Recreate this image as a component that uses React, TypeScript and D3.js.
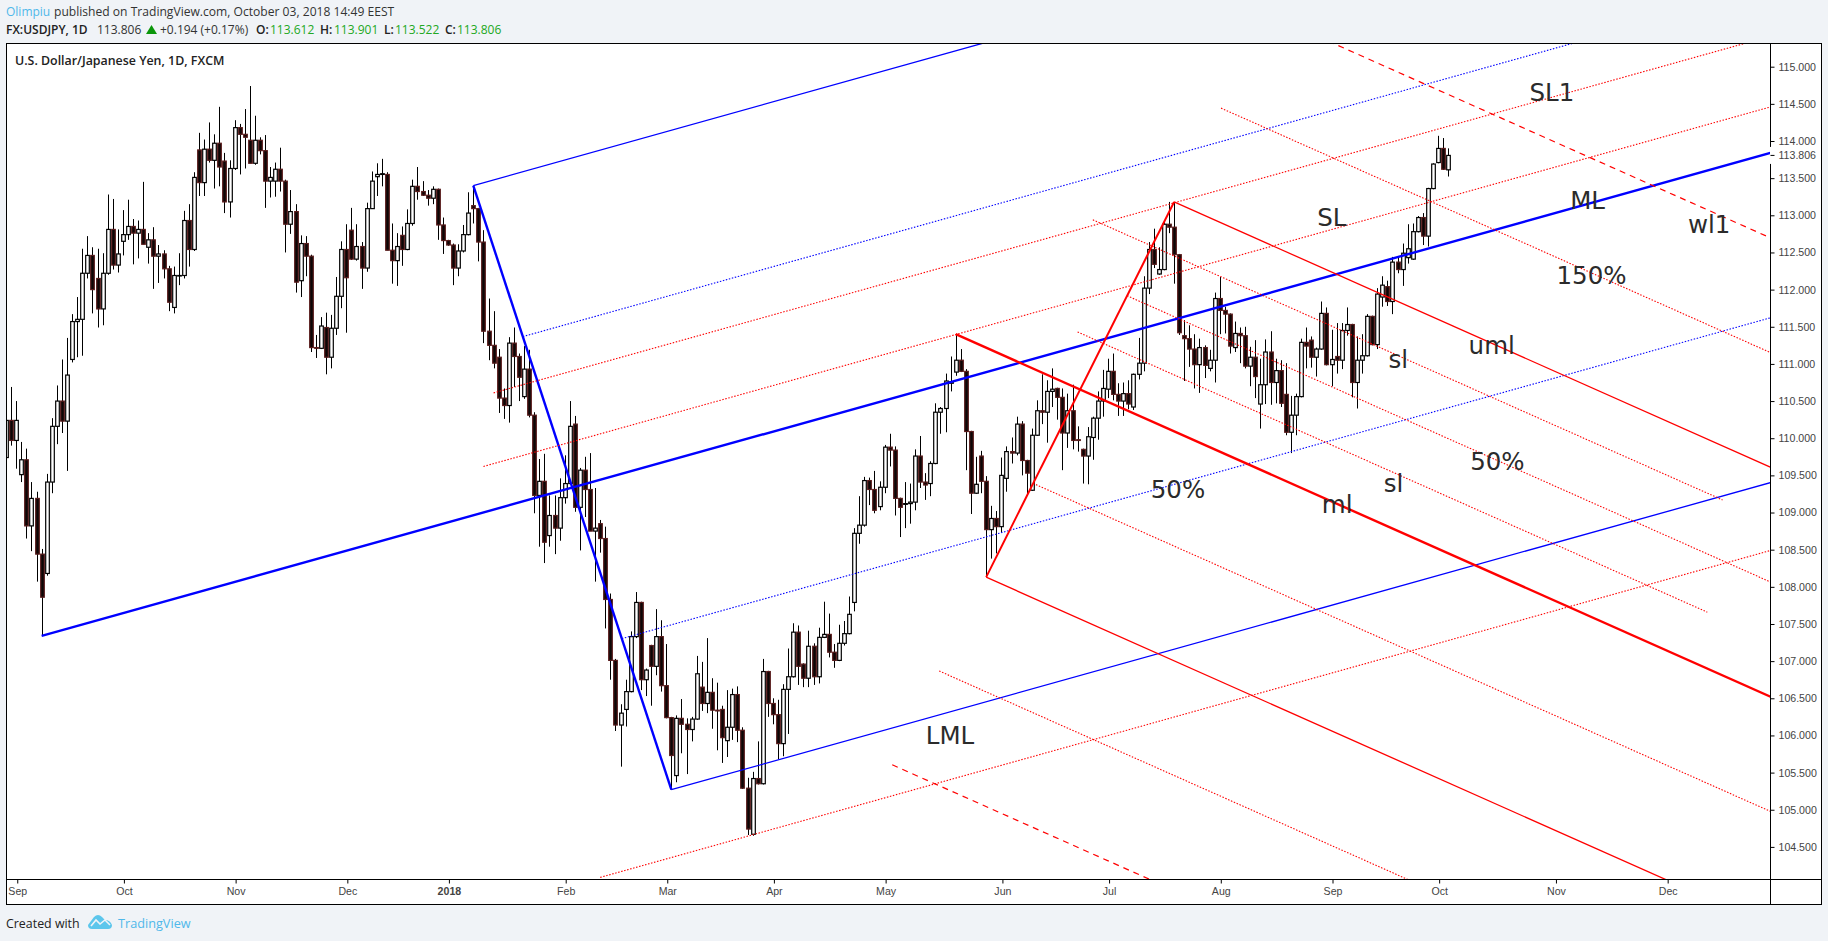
import { useEffect, useRef } from 'react';
import * as d3 from 'd3';

type Candle = [number, number, number, number]; // open, high, low, close

const aug17: Candle[] = [
	[109.74, 110.32, 109.71, 110.24], [110.24, 110.69, 109.9, 109.97],
];
const sep17: Candle[] = [
	[109.97, 110.5, 109.59, 110.24], [109.51, 109.95, 109.41, 109.71], [109.71, 109.86, 108.65, 108.82], [108.82, 109.41, 108.48, 109.19],
	[109.19, 109.28, 108.07, 108.44], [108.44, 108.51, 107.35, 107.86], [108.18, 109.52, 108.15, 109.41], [109.41, 110.27, 109.26, 110.16],
	[110.16, 110.71, 109.92, 110.5], [110.5, 111.06, 110.07, 110.23], [110.23, 111.35, 109.56, 110.85], [111.06, 111.67, 111.02, 111.57],
	[111.57, 111.9, 111.09, 111.6], [111.6, 112.55, 111.11, 112.22], [112.22, 112.72, 112.15, 112.46], [112.46, 112.57, 111.68, 112.0],
	[112.15, 112.55, 111.49, 111.74], [111.74, 112.49, 111.52, 112.22], [112.22, 113.28, 112.2, 112.81], [112.81, 113.22, 112.27, 112.33],
	[112.33, 112.81, 112.23, 112.48],
];
const oct17: Candle[] = [
	[112.65, 113.07, 112.46, 112.74], [112.74, 113.21, 112.67, 112.85], [112.85, 112.95, 112.34, 112.76], [112.76, 112.93, 112.42, 112.81],
	[112.81, 113.45, 112.61, 112.61], [112.57, 112.76, 112.35, 112.67], [112.67, 112.84, 112.01, 112.45], [112.45, 112.6, 112.09, 112.48],
	[112.48, 112.53, 112.15, 112.28], [112.28, 112.32, 111.71, 111.83], [111.76, 112.31, 111.68, 112.19], [112.19, 112.49, 112.06, 112.19],
	[112.19, 113.06, 112.15, 112.93], [112.93, 113.15, 112.31, 112.54], [112.54, 113.58, 112.52, 113.51], [113.88, 114.11, 113.26, 113.44],
	[113.44, 114.02, 113.26, 113.89], [113.89, 114.25, 113.71, 113.74], [113.74, 114.09, 113.36, 113.97], [113.97, 114.46, 113.39, 113.65],
	[113.73, 113.84, 113.03, 113.18], [113.18, 113.74, 112.97, 113.63],
];
const nov17: Candle[] = [
	[113.63, 114.28, 113.61, 114.18], [114.18, 114.23, 113.55, 114.09], [114.09, 114.43, 113.63, 114.05], [114.01, 114.74, 113.7, 113.7],
	[113.7, 114.34, 113.68, 114.01], [114.01, 114.05, 113.82, 113.87], [113.87, 114.08, 113.1, 113.46], [113.46, 113.65, 113.24, 113.51],
	[113.46, 113.71, 113.25, 113.62], [113.62, 113.91, 113.32, 113.46], [113.46, 113.48, 112.5, 112.88], [112.88, 113.34, 112.75, 113.05],
	[113.05, 113.15, 111.96, 112.1], [112.12, 112.73, 111.9, 112.62], [112.62, 112.72, 112.18, 112.45], [112.45, 112.47, 111.16, 111.22],
	[111.22, 111.39, 111.08, 111.21], [111.21, 111.63, 111.2, 111.51], [111.49, 111.69, 110.86, 111.09], [111.09, 111.66, 110.94, 111.48],
	[111.48, 112.17, 111.39, 111.91], [111.91, 112.65, 111.75, 112.54],
];
const dec17: Candle[] = [
	[112.54, 112.88, 111.42, 112.16], [112.8, 113.1, 112.4, 112.41], [112.41, 112.88, 112.39, 112.58], [112.58, 112.64, 112.01, 112.29],
	[112.29, 113.17, 112.24, 113.09], [113.09, 113.59, 113.09, 113.46], [113.52, 113.7, 113.26, 113.55], [113.55, 113.76, 113.39, 113.56],
	[113.55, 113.58, 112.53, 112.53], [112.53, 112.89, 112.08, 112.39], [112.39, 112.76, 112.05, 112.58], [112.73, 112.85, 112.32, 112.54],
	[112.54, 113.08, 112.53, 112.89], [112.89, 113.48, 112.86, 113.39], [113.39, 113.65, 113.21, 113.32], [113.32, 113.46, 113.26, 113.27],
	[113.27, 113.34, 113.13, 113.23], [113.23, 113.39, 113.15, 113.35], [113.35, 113.36, 112.67, 112.87], [112.87, 112.97, 112.48, 112.66],
];
const jan18: Candle[] = [
	[112.66, 112.67, 112.59, 112.6], [112.6, 112.62, 112.06, 112.29], [112.29, 112.61, 112.18, 112.52], [112.52, 112.87, 112.5, 112.74],
	[112.74, 113.31, 112.73, 113.03], [113.13, 113.39, 112.89, 113.09], [113.09, 113.1, 112.38, 112.64], [112.64, 112.8, 111.28, 111.44],
	[111.44, 111.88, 111.05, 111.25], [111.25, 111.71, 110.94, 111.01], [111.09, 111.2, 110.34, 110.54], [110.54, 110.67, 110.26, 110.44],
	[110.44, 111.36, 110.21, 111.28], [111.28, 111.49, 110.69, 111.1], [111.1, 111.14, 110.5, 110.82], [110.56, 111.24, 110.53, 110.93],
	[110.93, 111.19, 110.28, 110.31], [110.31, 110.35, 108.99, 109.23], [109.23, 109.72, 108.54, 109.42], [109.42, 109.79, 108.32, 108.6],
	[108.69, 109.23, 108.54, 108.96], [108.96, 109.23, 108.44, 108.79], [108.79, 109.46, 108.62, 109.2],
];
const feb18: Candle[] = [
	[109.2, 109.77, 109.12, 109.39], [109.39, 110.5, 109.38, 110.16], [110.19, 110.3, 109.01, 109.07], [109.07, 109.6, 108.49, 109.57],
	[109.57, 109.75, 108.94, 109.31], [109.31, 109.8, 108.75, 108.75], [108.75, 109.33, 108.07, 108.79], [108.85, 108.9, 108.46, 108.65],
	[108.65, 108.81, 107.44, 107.83], [107.83, 107.91, 106.75, 107.01], [107.01, 107.03, 106.06, 106.14], [106.14, 106.42, 105.58, 106.3],
	[106.35, 106.75, 106.12, 106.59], [106.59, 107.4, 106.58, 107.33], [107.33, 107.93, 107.31, 107.79], [107.79, 107.8, 106.61, 106.75],
	[106.75, 106.9, 106.53, 106.88], [107.21, 107.22, 106.4, 106.93], [106.93, 107.7, 106.81, 107.33], [107.33, 107.55, 106.59, 106.67],
];
const mar18: Candle[] = [
	[106.67, 107.23, 106.23, 106.24], [106.24, 106.25, 105.27, 105.73], [105.46, 106.27, 105.37, 106.23], [106.23, 106.49, 105.76, 106.15],
	[106.15, 106.23, 105.48, 106.08], [106.08, 106.25, 105.92, 106.22], [106.22, 107.07, 106.21, 106.83], [106.65, 106.99, 106.33, 106.43],
	[106.43, 107.31, 106.3, 106.58], [106.58, 106.77, 106.09, 106.34], [106.34, 106.71, 105.8, 106.33], [106.35, 106.4, 105.63, 105.97],
	[105.93, 106.61, 105.71, 106.11], [106.11, 106.63, 105.94, 106.55], [106.55, 106.66, 105.91, 106.07], [106.07, 106.11, 105.28, 105.29],
	[105.29, 105.43, 104.66, 104.74], [104.67, 105.51, 104.65, 105.42], [105.42, 105.92, 105.34, 105.35], [105.35, 107.03, 105.34, 106.86],
	[106.86, 106.87, 106.25, 106.43],
];
const apr18: Candle[] = [
	[106.43, 106.5, 106.15, 106.28], [106.28, 106.48, 105.68, 105.89], [105.89, 106.69, 105.72, 106.62], [106.62, 107.17, 106.02, 106.79],
	[106.79, 107.51, 106.78, 107.39], [107.39, 107.48, 106.68, 106.93], [106.96, 106.97, 106.65, 106.77], [106.77, 107.41, 106.65, 107.2],
	[107.2, 107.24, 106.68, 106.79], [106.79, 107.45, 106.7, 107.32], [107.32, 107.8, 107.31, 107.36], [107.36, 107.64, 107.05, 107.12],
	[107.12, 107.23, 106.91, 107.01], [107.01, 107.49, 107.0, 107.24], [107.24, 107.54, 107.21, 107.37], [107.37, 107.87, 107.36, 107.63],
	[107.79, 108.79, 107.67, 108.72], [108.72, 109.22, 108.58, 108.83], [108.83, 109.48, 108.81, 109.43], [109.43, 109.47, 109.1, 109.31],
	[109.31, 109.56, 108.99, 109.03], [109.08, 109.42, 109.03, 109.34],
];
const may18: Candle[] = [
	[109.34, 109.91, 109.26, 109.88], [109.88, 110.06, 109.62, 109.84], [109.84, 109.89, 108.96, 109.19], [109.19, 109.2, 108.67, 109.07],
	[109.11, 109.41, 108.79, 109.12], [109.12, 109.39, 108.85, 109.14], [109.14, 109.85, 109.03, 109.76], [109.76, 110.03, 109.33, 109.41],
	[109.41, 109.53, 109.17, 109.37], [109.39, 109.69, 109.22, 109.66], [109.66, 110.47, 109.65, 110.35], [110.35, 110.42, 110.06, 110.4],
	[110.4, 110.87, 110.08, 110.77], [110.74, 111.1, 110.63, 110.76], [110.89, 111.4, 110.84, 111.05], [111.05, 111.2, 110.89, 110.9],
	[110.9, 110.93, 109.57, 110.09], [110.09, 110.1, 108.98, 109.26], [109.26, 109.75, 109.25, 109.38], [109.76, 109.83, 109.26, 109.42],
	[109.42, 109.49, 108.14, 108.77], [108.77, 109.09, 108.38, 108.92], [108.92, 109.02, 108.45, 108.81],
];
const jun18: Candle[] = [
	[108.81, 109.74, 108.73, 109.5], [109.46, 109.89, 109.28, 109.82], [109.82, 110.01, 109.66, 109.8], [109.8, 110.29, 109.77, 110.19],
	[110.19, 110.23, 109.5, 109.7], [109.7, 109.71, 109.25, 109.53], [109.3, 110.13, 109.29, 110.04], [110.04, 110.51, 110.03, 110.37],
	[110.37, 110.86, 110.19, 110.35], [110.35, 110.78, 109.94, 110.63], [110.63, 110.94, 110.42, 110.66], [110.67, 110.68, 110.25, 110.55],
	[110.55, 110.67, 109.57, 110.07], [110.07, 110.6, 109.87, 110.37], [110.37, 110.72, 109.85, 109.97], [109.98, 110.16, 109.82, 109.97],
	[109.85, 109.86, 109.39, 109.76], [109.76, 110.15, 109.38, 110.02], [110.01, 110.29, 109.71, 110.27], [110.27, 110.63, 109.98, 110.5],
	[110.5, 110.92, 110.29, 110.67],
];
const jul18: Candle[] = [
	[110.66, 111.07, 110.54, 110.9], [110.9, 111.14, 110.51, 110.59], [110.59, 110.74, 110.3, 110.5], [110.5, 110.75, 110.3, 110.6],
	[110.6, 110.78, 110.39, 110.46], [110.42, 110.87, 110.38, 110.86], [110.86, 111.35, 110.79, 111.01], [111.01, 112.18, 110.9, 112.02],
	[112.02, 112.64, 111.94, 112.54], [112.54, 112.82, 112.29, 112.34], [112.21, 112.57, 112.2, 112.27], [112.27, 112.91, 112.26, 112.88],
	[112.88, 113.18, 112.76, 112.84], [112.84, 113.18, 112.08, 112.47], [112.47, 112.48, 111.39, 111.42], [111.38, 111.59, 110.77, 111.34],
	[111.34, 111.52, 110.96, 111.2], [111.2, 111.4, 110.67, 110.99], [110.99, 111.34, 110.61, 111.22], [111.22, 111.25, 110.81, 110.98],
	[110.94, 111.19, 110.9, 111.05], [111.05, 111.96, 110.75, 111.88],
];
const aug18: Candle[] = [
	[111.88, 112.17, 111.4, 111.72], [111.72, 111.77, 111.41, 111.67], [111.67, 111.68, 111.14, 111.24], [111.22, 111.57, 111.16, 111.41],
	[111.41, 111.49, 111.01, 111.38], [111.38, 111.5, 110.94, 110.97], [110.97, 111.23, 110.7, 111.09], [111.09, 111.32, 110.54, 110.83],
	[110.46, 111.07, 110.13, 110.72], [110.72, 111.33, 110.46, 111.16], [111.16, 111.44, 110.45, 110.75], [110.75, 111.07, 110.47, 110.91],
	[110.91, 111.05, 110.42, 110.47], [110.59, 111.01, 110.04, 110.08], [110.08, 110.57, 109.8, 110.31], [110.31, 110.6, 110.04, 110.56],
	[110.56, 111.34, 110.55, 111.29], [111.29, 111.49, 110.94, 111.24], [111.32, 111.37, 110.95, 111.09], [111.09, 111.22, 110.83, 111.2],
	[111.2, 111.84, 111.19, 111.68], [111.68, 111.76, 110.98, 110.99], [110.99, 111.46, 110.7, 111.06],
];
const sep18: Candle[] = [
	[111.1, 111.55, 110.87, 111.05], [111.05, 111.55, 110.93, 111.45], [111.45, 111.76, 111.38, 111.53], [111.53, 111.54, 110.55, 110.75],
	[110.75, 111.37, 110.4, 111.05], [111.05, 111.4, 110.87, 111.11], [111.11, 111.67, 111.1, 111.64], [111.64, 111.65, 111.25, 111.26],
	[111.26, 112.02, 111.2, 111.94], [111.9, 112.18, 111.77, 112.06], [112.04, 112.12, 111.78, 111.84], [111.84, 112.44, 111.67, 112.37],
	[112.37, 112.44, 112.22, 112.27], [112.27, 112.62, 112.05, 112.49], [112.43, 112.88, 112.35, 112.55], [112.41, 112.89, 112.4, 112.78],
	[112.78, 112.99, 112.77, 112.97], [112.97, 113.03, 112.6, 112.72], [112.72, 113.37, 112.58, 113.36], [113.36, 113.7, 113.35, 113.69],
];
const oct18: Candle[] = [
	[113.71, 114.07, 113.7, 113.9], [113.9, 114.04, 113.61, 113.62], [113.612, 113.901, 113.522, 113.806],
];

const months = [aug17, sep17, oct17, nov17, dec17, jan18, feb18, mar18, apr18, may18, jun18, jul18, aug18, sep18, oct18];
const candles = months.flat();

const priceTicks = [115, 114.5, 114, 113.5, 113, 112.5, 112, 111.5, 111, 110.5, 110, 109.5, 109, 108.5, 108, 107.5, 107, 106.5, 106, 105.5, 105, 104.5];
const lastPrice = 113.806;
const timeTicks = [2, 23, 45, 67, 87, 110, 130, 151, 173, 196, 217, 239, 261, 282, 305, 327];
const timeLabels = ['Sep', 'Oct', 'Nov', 'Dec', '2018', 'Feb', 'Mar', 'Apr', 'May', 'Jun', 'Jul', 'Aug', 'Sep', 'Oct', 'Nov', 'Dec'];

// pitchfork pivots as [bar, price]
const blueFork = { origin: [7, 107.34], high: [92, 113.4], low: [131, 105.27] };
const redFork = { origin: [187, 111.4], high: [230, 113.18], low: [193, 108.13] };
// extra parallels as [bar, price, last bar]
const blueParallels = [[94, 109.62, 500], [96, 110.61, 500], [117, 104.09, 500]];
const redParallels = [[214, 112.94, 338], [211, 111.43, 335]];

// [label, bar, price at the baseline]
const notes: [string, number, number][] = [
	['SL1', 300, 114.54], ['ML', 308, 113.08], ['wl1', 331.2, 112.76],
	['SL', 258.2, 112.86], ['150%', 305.3, 112.08], ['uml', 288, 111.13],
	['sl', 272.2, 110.94], ['50%', 288.3, 109.57], ['50%', 225.4, 109.2],
	['sl', 271.3, 109.28], ['ml', 259.1, 109.0], ['LML', 181.1, 105.88],
];

export default function App() {
	const svgRef = useRef<SVGSVGElement | null>(null);

	useEffect(() => {
		if (!svgRef.current) return;

		const width = 1828;
		const height = 941;
		const plot = { left: 6.5, top: 43.5, right: 1770.5, bottom: 879.5, frameRight: 1821.5, frameBottom: 904.5 };
		const uiFont = "'Open Sans', sans-serif";
		const axisFont = "'Liberation Sans', Arial, sans-serif";

		const svg = d3.select(svgRef.current).attr('width', width).attr('height', height);
		svg.selectAll('*').remove();

		svg.append('rect').attr('width', width).attr('height', height).attr('fill', '#f0f3f7');
		svg
			.append('rect')
			.attr('x', plot.left)
			.attr('y', plot.top)
			.attr('width', plot.frameRight - plot.left)
			.attr('height', plot.frameBottom - plot.top)
			.attr('fill', '#fff')
			.attr('stroke', '#000');

		const x = d3.scaleLinear().domain([0, 284]).range([6.1, 1448.3]);
		const y = d3.scaleLinear().domain([115, 104.5]).range([66.7, 846.9]);

		svg
			.append('clipPath')
			.attr('id', 'plot-clip')
			.append('rect')
			.attr('x', plot.left + 0.5)
			.attr('y', plot.top + 0.5)
			.attr('width', plot.right - plot.left - 1)
			.attr('height', plot.bottom - plot.top - 1);

		const chart = svg.append('g').attr('clip-path', 'url(#plot-clip)');

		// Candles
		const bars = chart
			.append('g')
			.selectAll('g')
			.data(candles)
			.join('g')
			.attr('transform', (_, i) => `translate(${Math.round(x(i)) + 0.5},0)`);

		bars
			.append('line')
			.attr('y1', (d) => y(d[1]))
			.attr('y2', (d) => y(d[2]))
			.attr('stroke', '#000')
			.attr('stroke-width', 1);

		bars
			.append('rect')
			.attr('x', -1.8)
			.attr('width', 3.6)
			.attr('y', (d) => y(Math.max(d[0], d[3])))
			.attr('height', (d) => Math.max(Math.abs(y(d[0]) - y(d[3])), 0.5))
			.attr('fill', (d) => (d[3] >= d[0] ? '#fff' : '#0c0606'))
			.attr('stroke', (d) => (d[3] >= d[0] ? '#000' : '#5a1c1c'))
			.attr('stroke-width', 1.2);

		const px = (p: number[]): [number, number] => [x(p[0]), y(p[1])];

		const drawLine = (a: [number, number], b: [number, number], color: string, w: number, dash?: string) => {
			chart
				.append('line')
				.attr('x1', a[0])
				.attr('y1', a[1])
				.attr('x2', b[0])
				.attr('y2', b[1])
				.attr('stroke', color)
				.attr('stroke-width', w)
				.attr('stroke-dasharray', dash ?? null);
		};

		const forkGeometry = (fork: typeof blueFork) => {
			const origin = px(fork.origin);
			const high = px(fork.high);
			const low = px(fork.low);
			const mid: [number, number] = [(high[0] + low[0]) / 2, (high[1] + low[1]) / 2];
			const dir: [number, number] = [mid[0] - origin[0], mid[1] - origin[1]];
			// start of the parallel at a level, negative goes to the low side
			const at = (level: number): [number, number] =>
				level >= 0
					? [mid[0] + level * (high[0] - mid[0]), mid[1] + level * (high[1] - mid[1])]
					: [mid[0] - level * (low[0] - mid[0]), mid[1] - level * (low[1] - mid[1])];
			const ray = (s: [number, number]): [number, number] => [s[0] + dir[0] * 8, s[1] + dir[1] * 8];
			return { origin, high, low, mid, dir, at, ray };
		};

		const dotted = '1.5 1.6';
		const dashed = '6 5';

		// Blue fork
		const blue = forkGeometry(blueFork);
		drawLine(blue.high, blue.low, '#0000ff', 2.4);
		drawLine(blue.origin, blue.ray(blue.origin), '#0000ff', 2.4);
		[1, -1].forEach((lv) => drawLine(blue.at(lv), blue.ray(blue.at(lv)), '#0000ff', 1.3));
		[0.5, -0.5].forEach((lv) => drawLine(blue.at(lv), blue.ray(blue.at(lv)), '#0000ff', 1.1, dotted));

		blueParallels.forEach(([bar, price]) => {
			const s = px([bar, price]);
			drawLine(s, blue.ray(s), '#ff0000', 1.1, dotted);
		});

		// Red fork
		const red = forkGeometry(redFork);
		drawLine(red.high, red.low, '#ff0000', 2);
		drawLine(red.origin, red.ray(red.origin), '#ff0000', 2.4);
		[1, -1].forEach((lv) => drawLine(red.at(lv), red.ray(red.at(lv)), '#ff0000', 1.3));
		[1.5, 0.5, -0.5, -1.5].forEach((lv) => drawLine(red.at(lv), red.ray(red.at(lv)), '#ff0000', 1.1, dotted));
		[2, -2].forEach((lv) => drawLine(red.at(lv), red.ray(red.at(lv)), '#ff0000', 1.2, dashed));

		redParallels.forEach(([bar, price, last]) => {
			const s = px([bar, price]);
			const endX = x(last);
			const k = (endX - s[0]) / red.dir[0];
			drawLine(s, [endX, s[1] + k * red.dir[1]], '#ff0000', 1.1, dotted);
		});

		// Notes
		svg
			.append('g')
			.selectAll('text')
			.data(notes)
			.join('text')
			.attr('x', (d) => x(d[1]))
			.attr('y', (d) => y(d[2]))
			.attr('font-family', "'DejaVu Sans', sans-serif")
			.attr('font-size', 24.5)
			.attr('fill', '#2b2b2b')
			.text((d) => d[0]);

		// Y axis
		const priceAxis = svg
			.append('g')
			.attr('transform', `translate(${plot.right},0)`)
			.call(
				d3
					.axisRight(y)
					.tickValues(priceTicks)
					.tickFormat((d) => d3.format('.3f')(d as number))
					.tickSize(4)
					.tickPadding(4),
			);
		priceAxis.select('.domain').remove();
		priceAxis.selectAll('text').attr('font-family', axisFont).attr('font-size', 10.6).attr('fill', '#444');
		priceAxis.selectAll('line').attr('stroke', '#000');

		svg
			.append('line')
			.attr('x1', plot.right)
			.attr('x2', plot.right)
			.attr('y1', plot.top)
			.attr('y2', plot.frameBottom)
			.attr('stroke', '#000');

		// Current price label
		const lastY = y(lastPrice);
		svg
			.append('rect')
			.attr('x', plot.right - 0.5)
			.attr('y', lastY - 8.5)
			.attr('width', 47)
			.attr('height', 17)
			.attr('fill', '#fff');
		svg
			.append('line')
			.attr('x1', plot.right)
			.attr('x2', plot.right + 4)
			.attr('y1', lastY)
			.attr('y2', lastY)
			.attr('stroke', '#000');
		svg
			.append('text')
			.attr('x', plot.right + 8)
			.attr('y', lastY + 3.7)
			.attr('font-family', axisFont)
			.attr('font-size', 10.6)
			.attr('fill', '#444')
			.text(d3.format('.3f')(lastPrice));

		// X axis
		const timeAxis = svg
			.append('g')
			.attr('transform', `translate(1,${plot.bottom})`)
			.call(
				d3
					.axisBottom(x)
					.tickValues(timeTicks)
					.tickFormat((_, i) => timeLabels[i])
					.tickSize(4)
					.tickPadding(3.5),
			);
		timeAxis.select('.domain').remove();
		timeAxis.selectAll('line').attr('stroke', '#000');
		timeAxis
			.selectAll('text')
			.attr('font-family', axisFont)
			.attr('font-size', 10.6)
			.attr('fill', '#444')
			.attr('font-weight', (_, i) => (timeLabels[i] === '2018' ? 700 : 400));

		svg
			.append('line')
			.attr('x1', plot.left)
			.attr('x2', plot.frameRight)
			.attr('y1', plot.bottom)
			.attr('y2', plot.bottom)
			.attr('stroke', '#000');

		// Header texts
		const label = (
			parent: d3.Selection<any, any, any, any>,
			tx: number,
			ty: number,
			text: string,
			size: number,
			fill: string,
			weight = 400,
		) =>
			parent
				.append('text')
				.attr('x', tx)
				.attr('y', ty)
				.attr('font-family', uiFont)
				.attr('font-size', size)
				.attr('font-weight', weight)
				.attr('fill', fill)
				.text(text);

		const green = '#22a822';
		label(svg, 6, 16, 'Olimpiu', 12, '#4fb8ea');
		label(svg, 54, 16, 'published on TradingView.com, October 03, 2018 14:49 EEST', 12.1, '#333');

		label(svg, 6, 33.5, 'FX:USDJPY, 1D', 12, '#222', 600);
		label(svg, 97, 33.5, '113.806', 12, '#333');
		svg.append('path').attr('d', 'M146,34 L151.5,25 L157,34 Z').attr('fill', '#0a960a');
		label(svg, 160, 33.5, '+0.194 (+0.17%)', 12, '#333');
		[
			['O:', 256, 270, '113.612'],
			['H:', 320, 334, '113.901'],
			['L:', 384, 395, '113.522'],
			['C:', 445, 457, '113.806'],
		].forEach(([k, kx, vx, v]) => {
			label(svg, kx as number, 33.5, k as string, 12, '#222', 600);
			label(svg, vx as number, 33.5, v as string, 12, green);
		});

		label(svg, 15, 64.5, 'U.S. Dollar/Japanese Yen, 1D, FXCM', 12.4, '#222', 600);

		// Footer
		label(svg, 6, 927.5, 'Created with', 12.4, '#222');
		svg
			.append('path')
			.attr('d', 'M88,925 L94,917 Q98,913 102,917 L105,920 Q110,920 112,925 Q112,929 108,929 L92,929 Q88,929 88,925 Z')
			.attr('fill', '#5cc6ec');
		svg
			.append('polyline')
			.attr('points', '91,926 96,920 100,924 105,920 110,925')
			.attr('fill', 'none')
			.attr('stroke', '#f0f3f7')
			.attr('stroke-width', 1.6);
		label(svg, 118, 927.5, 'TradingView', 12.7, '#4fb8ea');
	}, []);

	return <svg ref={svgRef} style={{ position: 'absolute', left: 0, top: 0, display: 'block' }} />;
}
